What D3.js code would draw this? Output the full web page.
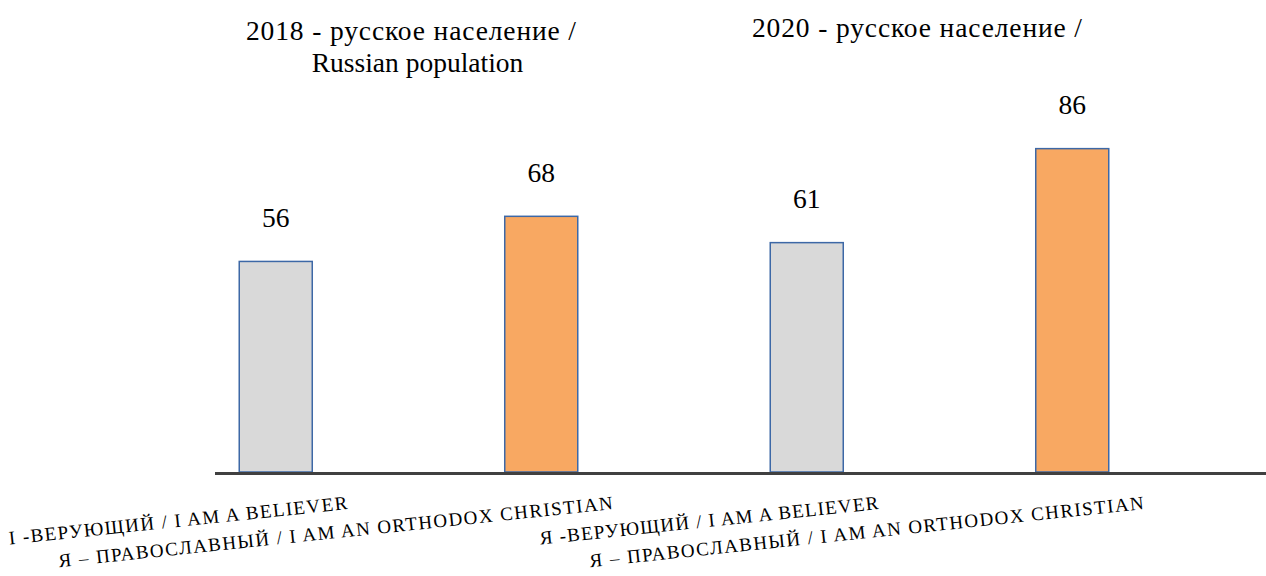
<!DOCTYPE html>
<html>
<head>
<meta charset="utf-8">
<script src="https://cdn.jsdelivr.net/npm/d3@7"></script>
<style>
  body { margin: 0; background: #fff; }
</style>
</head>
<body>
<div id="chart"></div>
<script>
const width = 1266, height = 576;

// data
const categories = [
  "I -ВЕРУЮЩИЙ / I AM A BELIEVER",
  "Я – ПРАВОСЛАВНЫЙ / I AM AN ORTHODOX CHRISTIAN",
  "Я -ВЕРУЮЩИЙ / I AM A BELIEVER",
  "Я – ПРАВОСЛАВНЫЙ / I AM AN ORTHODOX CHRISTIAN"
];
const values = [56, 68, 61, 86];
const barColors = ["#d9d9d9", "#f8a862", "#d9d9d9", "#f8a862"];
const groupTitles = [
  ["2018 - русское население /", "Russian population"],
  ["2020 - русское население /"]
];

const serif = "Liberation Serif";

let svg = d3.select("#chart")
  .append("svg")
  .attr("width", width)
  .attr("height", height);

let x = d3.scaleBand()
  .domain(d3.range(categories.length))
  .range([143, 1205])
  .paddingInner(0.725)
  .paddingOuter(0.3625);

let y = d3.scaleLinear()
  .domain([0, 100])
  .range([472, 96]);

// bars
svg.append("g")
  .selectAll("rect")
  .data(values)
  .join("rect")
  .attr("x", (d, i) => x(i))
  .attr("y", (d) => y(d))
  .attr("width", x.bandwidth())
  .attr("height", (d) => y(0) - y(d))
  .attr("fill", (d, i) => barColors[i])
  .attr("stroke", "#3d68a6")
  .attr("stroke-width", 1.5);

// value labels
svg.append("g")
  .selectAll("text")
  .data(values)
  .join("text")
  .attr("x", (d, i) => x(i) + x.bandwidth() / 2)
  .attr("y", (d) => y(d) - 34.5)
  .attr("text-anchor", "middle")
  .style("font-family", serif)
  .style("font-size", "27.5px")
  .text((d) => d);

// axis line
svg.append("line")
  .attr("x1", 215)
  .attr("x2", width)
  .attr("y1", y(0) + 1.5)
  .attr("y2", y(0) + 1.5)
  .attr("stroke", "#404040")
  .attr("stroke-width", 3);

// rotated category labels (cyrillic in the original is wider, so stretch to its length)
svg.append("g")
  .selectAll("text")
  .data(categories)
  .join("text")
  .attr("text-anchor", "end")
  .style("font-family", serif)
  .style("font-size", "19px")
  .attr("textLength", (d, i) => i % 2 ? 557 : 340)
  .attr("lengthAdjust", "spacing")
  .attr("transform", (d, i) => "translate(" + (x(i) + x.bandwidth() / 2 + 72) + ",509) rotate(-6)")
  .text((d) => d);

// group titles
let titleX = [[411, 417.5], [917]];
let titleY = [39.5, 37];
groupTitles.forEach(function(lines, g) {
  lines.forEach(function(line, k) {
    let t = svg.append("text")
      .attr("text-anchor", "middle")
      .attr("x", titleX[g][k])
      .attr("y", titleY[g] + k * 32.5)
      .style("font-family", serif)
      .style("font-size", "27.5px")
      .text(line);
    if (k === 0) t.attr("textLength", 330).attr("lengthAdjust", "spacing");
  });
});
</script>
</body>
</html>
